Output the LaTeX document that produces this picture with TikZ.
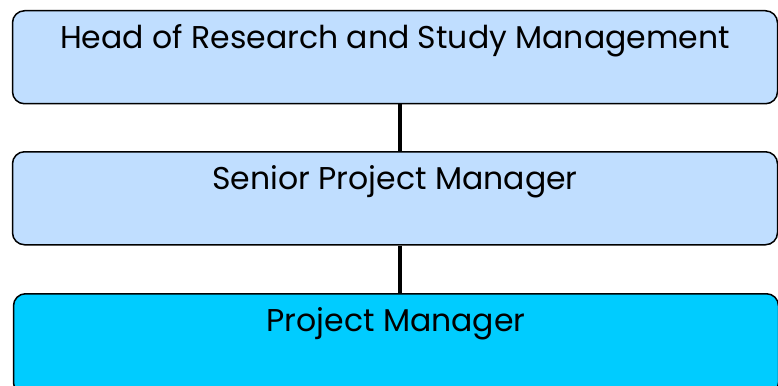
\documentclass[tikz,border=0pt]{standalone}
\usepackage{fontspec}
\setmainfont{Poppins}
\usepackage{tikz}
\definecolor{paleblue}{HTML}{C0DEFF}
\definecolor{brightcyan}{HTML}{00CCFF}
\tikzstyle{block} = [rectangle, draw, line width=1.5pt, fill=paleblue,
    rounded corners=12pt, minimum width=765pt, inner xsep=0pt, inner ysep=0pt,
    text height=38pt, text depth=55pt, font=\fontsize{31.5}{33}\selectfont]
\tikzstyle{focus} = [block, fill=brightcyan, text depth=63pt]
\tikzstyle{line} = [draw, line width=4pt]

\begin{document}
\begin{tikzpicture}[x=1pt,y=-1pt]
                \useasboundingbox (0,0) rectangle (778,385);
                \node [block, anchor=north] at (395,10) (head) {Head of Research and Study Management};
                \node [block, anchor=north] at (395,151) (senior) {Senior Project Manager};
                \node [focus, anchor=north] at (396,293) (pm) {Project Manager};
                \path [line] ([xshift=4.5pt]head.south) -- ([xshift=4.5pt]senior.north);
                \path [line] ([xshift=4.5pt]senior.south) -- ([xshift=3.5pt]pm.north);
            \end{tikzpicture}
\end{document}
